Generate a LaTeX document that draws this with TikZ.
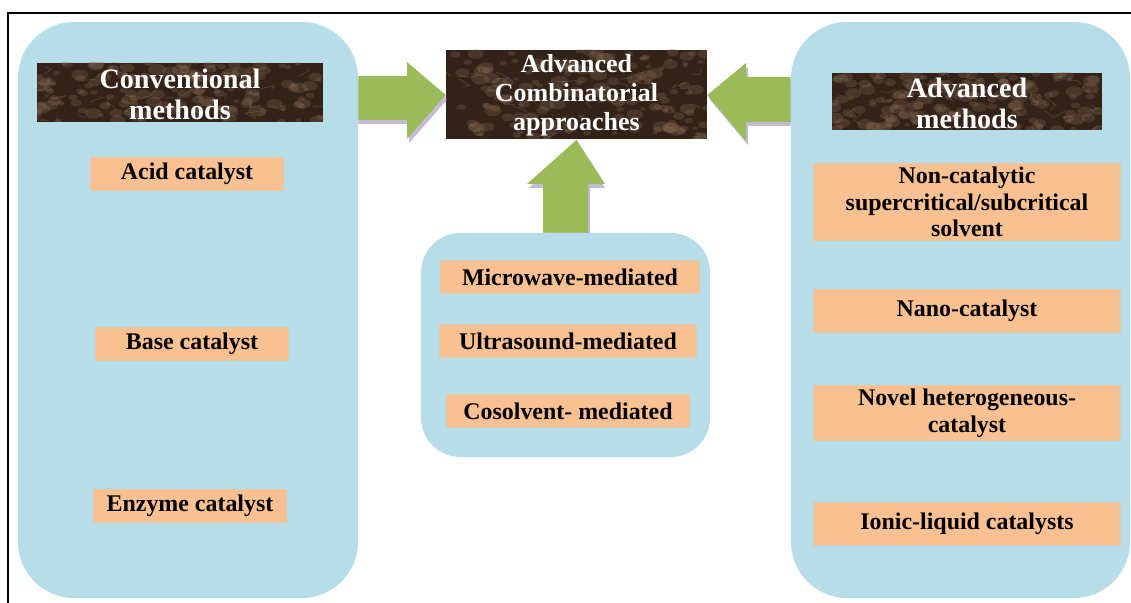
\documentclass[tikz,border=0pt]{standalone}
\usepackage{fontspec}
\setmainfont{Liberation Serif}
\definecolor{panelblue}{RGB}{183,221,232}
\definecolor{itemorange}{RGB}{249,192,145}
\definecolor{arrowgreen}{RGB}{155,187,89}
\definecolor{shadowpurple}{RGB}{128,100,162}
\definecolor{barkdark}{RGB}{50,34,24}
\definecolor{barklight}{RGB}{150,120,95}
% textured header box: x1 y1 x2 y2
\newcommand{\barkbox}[4]{%
	\begin{scope}
	\clip (#1,#2) rectangle (#3,#4);
	\fill[barkdark] (#1,#2) rectangle (#3,#4);
	\foreach \k in {1,...,160}{
		\pgfmathsetmacro{\px}{#1+rnd*(#3-#1)}
		\pgfmathsetmacro{\py}{#2+rnd*(#4-#2)}
		\pgfmathsetmacro{\pr}{1.5+rnd*4}
		\fill[barklight,opacity=0.25] (\px,\py) ellipse ({\pr*1.6} and \pr);
	}
	\foreach \k in {1,...,30}{
		\pgfmathsetmacro{\px}{#1+rnd*(#3-#1)}
		\pgfmathsetmacro{\py}{#2+rnd*(#4-#2)}
		\draw[barklight,opacity=0.3,line width=0.6pt] (\px,\py) -- ++(rand*14,rand*7) -- ++(rand*14,rand*7);
	}
	\end{scope}}
\begin{document}
\begin{tikzpicture}[x=0.025cm,y=-0.025cm,
	panel/.style={fill=panelblue,rounded corners=40pt,inner sep=0pt},
	item/.style={fill=itemorange,draw=itemorange!75!panelblue,line width=1.2pt,inner sep=0pt,align=center,
		font=\bfseries\fontsize{17}{19}\selectfont},
	head/.style={text=white,align=center,inner sep=0pt,font=\bfseries\fontsize{20}{22}\selectfont},
	bigarrow/.style={fill=arrowgreen},
	arrowshadow/.style={fill=shadowpurple,opacity=0.45}]
	\useasboundingbox (0,0) rectangle (1131,603);
	\pgfmathsetseed{11}
	\draw[line width=1pt] (1131,13) -- (8,13) -- (8,603);
	% panels
	\node[panel,minimum width=8.5cm,minimum height=14.4cm] (conv) at (188,310) {};
	\node[panel,minimum width=8.475cm,minimum height=14.4cm] (adv) at (960.5,310) {};
	\node[panel,rounded corners=28pt,minimum width=7.225cm,minimum height=5.6cm] (mid) at (565.5,345) {};
	% headers
	\barkbox{37}{63}{323}{122}
	\node[head] (convhead) at (180,94) {Conventional\\methods};
	\barkbox{832}{73}{1102}{130}
	\node[head] (advhead) at (967,103) {Advanced\\methods};
	\barkbox{446}{50}{707}{139}
	\node[head,font=\bfseries\fontsize{18.5}{20.5}\selectfont,minimum width=6.525cm,minimum height=2.225cm] (comb) at (576.5,95) {Advanced\\Combinatorial\\approaches};
	% block arrows
	\fill[arrowshadow] (conv.east |- 0,80) -- (409,80) -- (409,66) -- ([shift={(2,4)}]comb.west) -- (409,143) -- (409,124) -- (conv.east |- 0,124) -- cycle;
	\fill[bigarrow] (conv.east |- 0,76) -- (407,76) -- (407,62) -- (comb.west) -- (407,139) -- (407,120) -- (conv.east |- 0,120) -- cycle;
	\fill[arrowshadow] (adv.west |- 0,81) -- (748,81) -- (748,67) -- ([shift={(2,4)}]comb.east) -- (748,145) -- (748,126) -- (adv.west |- 0,126) -- cycle;
	\fill[bigarrow] (adv.west |- 0,77) -- (746,77) -- (746,63) -- (comb.east) -- (746,141) -- (746,122) -- (adv.west |- 0,122) -- cycle;
	\fill[arrowshadow] (545,188) -- (529,188) -- ([shift={(0,4)}]comb.south) -- (605,188) -- (590,188) -- (590,233) -- (545,233) -- cycle;
	\fill[bigarrow] (543,184) -- (527,184) -- (comb.south) -- (605,184) -- (588,184) -- (mid.north -| 588,0) -- (mid.north -| 543,0) -- cycle;
	% conventional items
	\node[item,minimum width=4.825cm,minimum height=0.825cm] (acid) at (187,174) {Acid catalyst};
	\node[item,minimum width=4.825cm,minimum height=0.825cm] (base) at (192,344) {Base catalyst};
	\node[item,minimum width=4.825cm,minimum height=0.825cm] (enzyme) at (190,506) {Enzyme catalyst};
	% combinatorial items
	\node[item,minimum width=6.475cm,minimum height=0.8cm] (micro) at (570,277) {Microwave-mediated};
	\node[item,minimum width=6.4cm,minimum height=0.8cm] (ultra) at (568,341) {Ultrasound-mediated};
	\node[item,minimum width=6.075cm,minimum height=0.8cm] (cosol) at (568,411) {Cosolvent- mediated};
	% advanced items
	\node[item,minimum width=7.65cm,minimum height=1.925cm] (noncat) at (967,202) {Non-catalytic\\supercritical/subcritical\\solvent};
	\node[item,minimum width=7.65cm,minimum height=1.075cm] (nano) at (967,311) {Nano-catalyst};
	\node[item,minimum width=7.65cm,minimum height=1.375cm] (novel) at (967,413) {Novel heterogeneous-\\catalyst};
	\node[item,minimum width=7.65cm,minimum height=1.05cm] (ionic) at (967,524) {Ionic-liquid catalysts};
\end{tikzpicture}
\end{document}
